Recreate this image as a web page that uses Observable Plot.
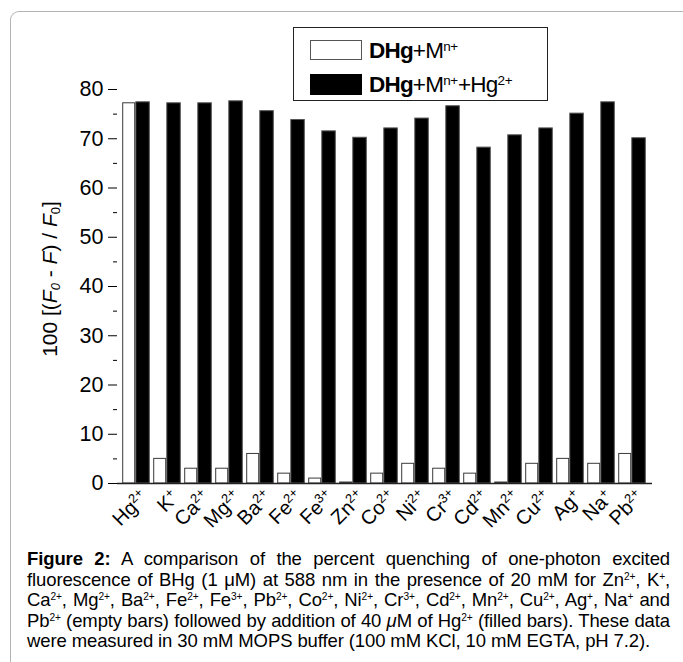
<!DOCTYPE html>
<html>
<head>
<meta charset="utf-8">
<script src="https://cdn.jsdelivr.net/npm/d3@7"></script>
<script src="https://cdn.jsdelivr.net/npm/@observablehq/plot@0.6"></script>
<style>
  html, body { margin: 0; padding: 0; background: #fff; }
  body { width: 683px; height: 662px; overflow: hidden; position: relative; font-family: "Liberation Sans", Arial, sans-serif; color: #000; }
  #frame { position: absolute; left: 10px; top: 11px; width: 672px; height: 660px; border-top: 1px solid #b4b4b4; border-left: 1px solid #b4b4b4; border-top-left-radius: 9px; }
  #chart { position: absolute; left: 0; top: 0; }
  #legend { position: absolute; left: 293px; top: 27px; width: 253px; height: 72px; border: 1px solid #222; background: #fff; }
  .sw { position: absolute; left: 16px; width: 52px; box-sizing: border-box; }
  .lt { position: absolute; left: 75px; font-size: 22.5px; line-height: 22px; white-space: nowrap; letter-spacing: -0.8px; }
  .lt sup { font-size: 0.6em; line-height: 0; vertical-align: 0.55em; letter-spacing: -0.3px; }
  #ytitle { position: absolute; left: 50px; top: 279px; transform: translate(-50%, -50%) rotate(-90deg); font-size: 21px; line-height: 24px; white-space: nowrap; }
  #ytitle sub { font-size: 0.62em; vertical-align: -0.25em; line-height: 0; }
  #caption { position: absolute; left: 27px; top: 549px; width: 643px; font-size: 18.5px; }
  #caption .ln { white-space: nowrap; line-height: 20.5px; height: 20.5px; text-align: justify; text-align-last: justify; }
  #caption .ln.last { text-align-last: left; }
  #caption sup { font-size: 0.55em; vertical-align: 0.55em; line-height: 0; }
</style>
</head>
<body>
<div id="frame"></div>
<div id="chart"></div>
<div id="ytitle">100 [(<i>F</i><sub><i>0</i></sub> - <i>F</i>) / <i>F</i><sub>0</sub>]</div>
<div id="legend">
  <div class="sw" style="top:12px;height:20px;border:1px solid #555;background:#fff;"></div>
  <div class="lt" style="top:12px;"><b>DHg</b>+M<sup>n+</sup></div>
  <div class="sw" style="top:46px;height:21px;background:#000;"></div>
  <div class="lt" style="top:46px;"><b>DHg</b>+M<sup>n+</sup>+Hg<sup>2+</sup></div>
</div>
<div id="caption">
  <div class="ln"><span><b>Figure 2:</b> A comparison of the percent quenching of one-photon excited</span></div>
  <div class="ln"><span>fluorescence of BHg (1 μM) at 588 nm in the presence of 20 mM for Zn<sup>2+</sup>, K<sup>+</sup>,</span></div>
  <div class="ln"><span>Ca<sup>2+</sup>, Mg<sup>2+</sup>, Ba<sup>2+</sup>, Fe<sup>2+</sup>, Fe<sup>3+</sup>, Pb<sup>2+</sup>, Co<sup>2+</sup>, Ni<sup>2+</sup>, Cr<sup>3+</sup>, Cd<sup>2+</sup>, Mn<sup>2+</sup>, Cu<sup>2+</sup>, Ag<sup>+</sup>, Na<sup>+</sup> and</span></div>
  <div class="ln"><span>Pb<sup>2+</sup> (empty bars) followed by addition of 40 <i>μ</i>M of Hg<sup>2+</sup> (filled bars). These data</span></div>
  <div class="ln last"><span>were measured in 30 mM MOPS buffer (100 mM KCl, 10 mM EGTA, pH 7.2).</span></div>
</div>
<script>
const ions = ["Hg2+","K+","Ca2+","Mg2+","Ba2+","Fe2+","Fe3+","Zn2+","Co2+","Ni2+","Cr3+","Cd2+","Mn2+","Cu2+","Ag+","Na+","Pb2+"];
const emptyValues = [77.2, 5, 3, 3, 6, 2, 1, 0.2, 2, 4, 3, 2, 0.2, 4, 5, 4, 6];
const filledValues = [77.4, 77.2, 77.2, 77.6, 75.6, 73.8, 71.5, 70.2, 72.1, 74.1, 76.6, 68.2, 70.7, 72.1, 75.1, 77.4, 70.1];
const yTicks = [0, 10, 20, 30, 40, 50, 60, 70, 80];
const yMinorTicks = [5, 15, 25, 35, 45, 55, 65, 75];

const data = ions.map((ion, i) => ({ion, empty: emptyValues[i], filled: filledValues[i]}));

const plot = Plot.plot({
  width: 683,
  height: 540,
  marginLeft: 117,
  marginRight: 31,
  marginTop: 89,
  marginBottom: 57,
  style: {fontFamily: "'Liberation Sans', Arial, sans-serif", background: "transparent", color: "#000", overflow: "visible"},
  x: {domain: ions, padding: 0, axis: null},
  y: {domain: [0, 80]},
  marks: [
    Plot.barY(data, {x: "ion", y: "empty", fill: "#fff", stroke: "#3a3a3a", strokeWidth: 1, insetLeft: 1.7, insetRight: 17.3}),
    Plot.barY(data, {x: "ion", y: "filled", fill: "#000", stroke: "#555", strokeWidth: 1, insetLeft: 14.8, insetRight: 2.7}),
    Plot.ruleY([0], {stroke: "#222", strokeWidth: 1.5}),
    Plot.axisY({ticks: yMinorTicks, tickSize: 4, tickFormat: () => "", label: null}),
    Plot.axisY({ticks: yTicks, tickSize: 9, tickPadding: 5, fontSize: 21.5, label: null, line: true}),
    Plot.text(ions, {x: d => d, frameAnchor: "bottom", text: d => d, rotate: -45, textAnchor: "end", dx: 12, dy: 15, fontSize: 20})
  ]
});
document.getElementById("chart").appendChild(plot);

// superscript charges on the x labels
const ns = "http://www.w3.org/2000/svg";
plot.querySelectorAll('g[aria-label="text"] text').forEach(t => {
  const m = /^([A-Z][a-z]?)(\d?\+)$/.exec(t.textContent);
  if (!m) return;
  t.textContent = "";
  const a = document.createElementNS(ns, "tspan");
  a.textContent = m[1];
  const b = document.createElementNS(ns, "tspan");
  b.textContent = m[2];
  b.setAttribute("dy", "-0.55em");
  b.setAttribute("font-size", "13");
  t.appendChild(a); t.appendChild(b);
});

// fit caption letter spacing so lines fill the column without overflowing
const spans = Array.from(document.querySelectorAll("#caption .ln span"));
let ls = Infinity;
spans.forEach((s, i) => {
  const w = s.getBoundingClientRect().width;
  const n = s.textContent.length;
  const target = i === spans.length - 1 ? 635 : 639;
  ls = Math.min(ls, (target - w) / n);
});
document.getElementById("caption").style.letterSpacing = Math.max(-1.2, ls) + "px";
</script>
</body>
</html>
